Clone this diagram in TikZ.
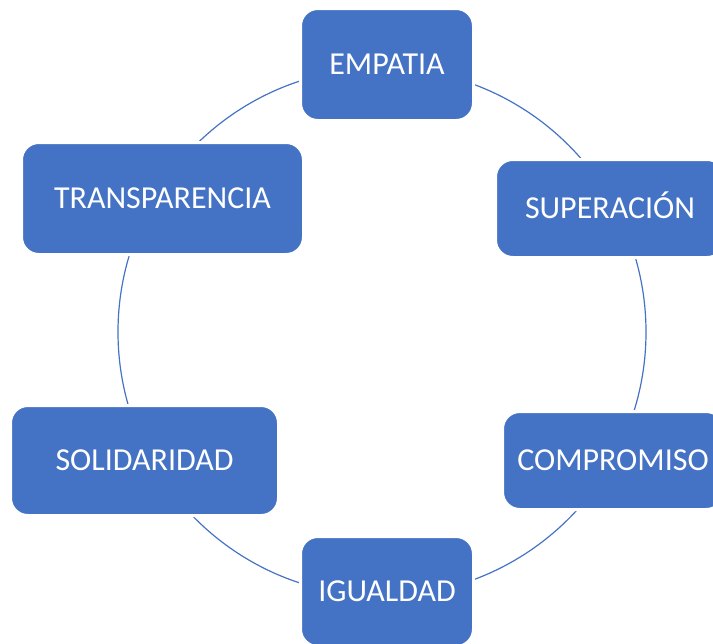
\documentclass[tikz,border=0pt]{standalone}
\usepackage{fontspec}
\setmainfont{Carlito}
\definecolor{officeblue}{HTML}{4472C4}
\begin{document}
\begin{tikzpicture}[x=0.75pt,y=-0.75pt,
  valuebox/.style={rectangle, rounded corners=13pt, fill=officeblue, draw=white,
    line width=2.25pt, inner sep=0pt, text=white,
    font=\fontsize{24}{28}\selectfont, text height=15.4pt, text depth=0pt},
  ring/.style={draw=officeblue, line width=0.9pt}]
\useasboundingbox (0,0) rectangle (713,643);
\clip (0,0) rectangle (713,643);
\coordinate (ctr) at (382,332);
\draw[ring] (ctr) circle[radius=198pt];
\node[valuebox, minimum width=129.75pt, minimum height=84pt] (emp) at (387,64.5) {EMPATIA};
\node[valuebox, minimum width=171.75pt, minimum height=73.5pt] (sup) at (610,208.5) {SUPERACIÓN};
\node[valuebox, minimum width=165.75pt, minimum height=73.5pt] (com) at (613,460.5) {COMPROMISO};
\node[valuebox, minimum width=129.75pt, minimum height=82.5pt] (igu) at (387,591.5) {IGUALDAD};
\node[valuebox, minimum width=201pt, minimum height=82.5pt] (sol) at (144.5,460.5) {SOLIDARIDAD};
\node[valuebox, minimum width=211.5pt, minimum height=84pt] (tra) at (162.5,198.5) {TRANSPARENCIA};
\end{tikzpicture}
\end{document}
